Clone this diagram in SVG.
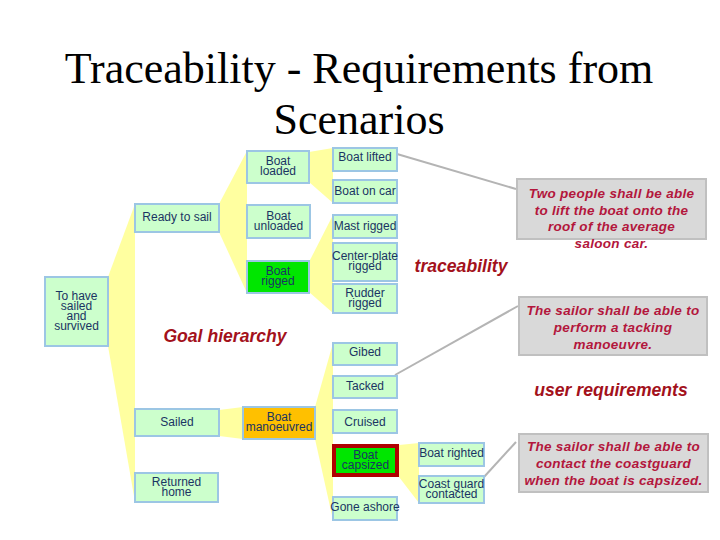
<svg xmlns="http://www.w3.org/2000/svg" width="720" height="540" viewBox="0 0 720 540">
<style>
.n{fill:#ccffcc;stroke:#9cc6e4;stroke-width:2}
.g{fill:#00e600;stroke:#9cc6e4;stroke-width:2}
.t{font-family:"Liberation Sans",Arial,sans-serif;font-size:12px;fill:#1a3463;text-anchor:middle}
.fan{fill:#ffffa0;stroke:none}
.ln{stroke:#b4b4b4;stroke-width:2;fill:none}
.rq{fill:#d9d9d9;stroke:#c0c0c0;stroke-width:2}
.rt{font-family:"Liberation Sans",Arial,sans-serif;font-size:13.5px;letter-spacing:0.3px;font-weight:bold;font-style:italic;fill:#b3163c;text-anchor:middle}
.lb{font-family:"Liberation Sans",Arial,sans-serif;font-size:17.6px;font-weight:bold;font-style:italic;fill:#a3111b;text-anchor:middle}
.title{font-family:"Liberation Serif","Times New Roman",serif;font-size:44px;fill:#000;text-anchor:middle}
</style>
<rect width="720" height="540" fill="#fff"/>
<text class="title" x="359" y="83">Traceability - Requirements from</text>
<text class="title" x="359" y="134">Scenarios</text>

<g id="connectors">
<polygon class="fan" points="108,277 135,204 135,502 108,346"/>
<polygon class="fan" points="219,204 247,151 247,293 219,232"/>
<polygon class="fan" points="309,152 333,148 333,203 309,182"/>
<polygon class="fan" points="309,262 333,215 333,313 309,292"/>
<polygon class="fan" points="219,410 243,407 243,439 219,436"/>
<polygon class="fan" points="315,407 333,343 333,520 315,439"/>
<polygon class="fan" points="399,445 419,443 419,503 399,477"/>
<line class="ln" x1="397" y1="154" x2="516" y2="189"/>
<line class="ln" x1="395" y1="375" x2="518" y2="306"/>
<line class="ln" x1="484" y1="477" x2="516" y2="442"/>
</g>

<g id="n-survived"><rect class="n" x="45" y="277" width="63" height="69"/><text class="t" y="300"><tspan x="76.5">To have</tspan><tspan x="76.5" dy="10">sailed</tspan><tspan x="76.5" dy="10">and</tspan><tspan x="76.5" dy="10">survived</tspan></text></g>
<g id="n-ready"><rect class="n" x="135" y="204" width="84" height="28"/><text class="t" x="177" y="221">Ready to sail</text></g>
<g id="n-sailed"><rect class="n" x="135" y="409" width="84" height="27"/><text class="t" x="177" y="426">Sailed</text></g>
<g id="n-returned"><rect class="n" x="135" y="473" width="83" height="29"/><text class="t" y="486"><tspan x="176.5">Returned</tspan><tspan x="176.5" dy="10">home</tspan></text></g>
<g id="n-loaded"><rect class="n" x="247" y="151" width="62" height="32"/><text class="t" y="165"><tspan x="278">Boat</tspan><tspan x="278" dy="10">loaded</tspan></text></g>
<g id="n-unloaded"><rect class="n" x="247" y="205" width="63" height="33"/><text class="t" y="220"><tspan x="278.5">Boat</tspan><tspan x="278.5" dy="10">unloaded</tspan></text></g>
<g id="n-rigged"><rect class="g" x="247" y="261" width="62" height="32"/><text class="t" y="275"><tspan x="278">Boat</tspan><tspan x="278" dy="10">rigged</tspan></text></g>
<g id="n-manoeuvred"><rect x="243" y="407" width="72" height="32" fill="#ffc000" stroke="#9cc6e4" stroke-width="2"/><text class="t" y="421"><tspan x="279">Boat</tspan><tspan x="279" dy="10">manoeuvred</tspan></text></g>
<g id="n-lifted"><rect class="n" x="333" y="148" width="64" height="23"/><text class="t" x="365" y="161">Boat lifted</text></g>
<g id="n-oncar"><rect class="n" x="333" y="180" width="64" height="23"/><text class="t" x="365" y="195">Boat on car</text></g>
<g id="n-mast"><rect class="n" x="333" y="215" width="64" height="23"/><text class="t" x="365" y="230">Mast rigged</text></g>
<g id="n-center"><rect class="n" x="333" y="243" width="64" height="38"/><text class="t" y="260"><tspan x="365">Center-plate</tspan><tspan x="365" dy="10">rigged</tspan></text></g>
<g id="n-rudder"><rect class="n" x="333" y="284" width="64" height="29"/><text class="t" y="297"><tspan x="365">Rudder</tspan><tspan x="365" dy="10">rigged</tspan></text></g>
<g id="n-gibed"><rect class="n" x="333" y="343" width="64" height="22"/><text class="t" x="365" y="356">Gibed</text></g>
<g id="n-tacked"><rect class="n" x="333" y="376" width="64" height="22"/><text class="t" x="365" y="390">Tacked</text></g>
<g id="n-cruised"><rect class="n" x="333" y="410" width="64" height="23"/><text class="t" x="365" y="426">Cruised</text></g>
<g id="n-capsized"><rect x="334" y="446" width="63" height="29" fill="#00e600" stroke="#b00000" stroke-width="4"/><text class="t" y="459"><tspan x="365.5">Boat</tspan><tspan x="365.5" dy="10">capsized</tspan></text></g>
<g id="n-ashore"><rect class="n" x="333" y="497" width="64" height="23"/><text class="t" x="365" y="511">Gone ashore</text></g>
<g id="n-righted"><rect class="n" x="419" y="443" width="65" height="23"/><text class="t" x="451.5" y="457">Boat righted</text></g>
<g id="n-coastguard"><rect class="n" x="419" y="476" width="65" height="27"/><text class="t" y="488"><tspan x="451.5">Coast guard</tspan><tspan x="451.5" dy="10">contacted</tspan></text></g>

<g id="req-lift"><rect class="rq" x="517" y="179" width="189" height="60"/><text class="rt" y="198"><tspan x="611.5">Two people shall be able</tspan><tspan x="611.5" dy="16.5">to lift the boat onto the</tspan><tspan x="611.5" dy="16.5">roof of the average</tspan><tspan x="611.5" dy="16.5">saloon car.</tspan></text></g>
<g id="req-tack"><rect class="rq" x="519" y="297" width="188" height="58"/><text class="rt" y="315"><tspan x="613">The sailor shall be able to</tspan><tspan x="613" dy="17">perform a tacking</tspan><tspan x="613" dy="17">manoeuvre.</tspan></text></g>
<g id="req-coast"><rect class="rq" x="519" y="434" width="189" height="58"/><text class="rt" y="451"><tspan x="613.5">The sailor shall be able to</tspan><tspan x="613.5" dy="17">contact the coastguard</tspan><tspan x="613.5" dy="17">when the boat is capsized.</tspan></text></g>

<text class="lb" x="225" y="342">Goal hierarchy</text>
<text class="lb" x="461" y="272">traceability</text>
<text class="lb" x="611" y="396">user requirements</text>
</svg>
